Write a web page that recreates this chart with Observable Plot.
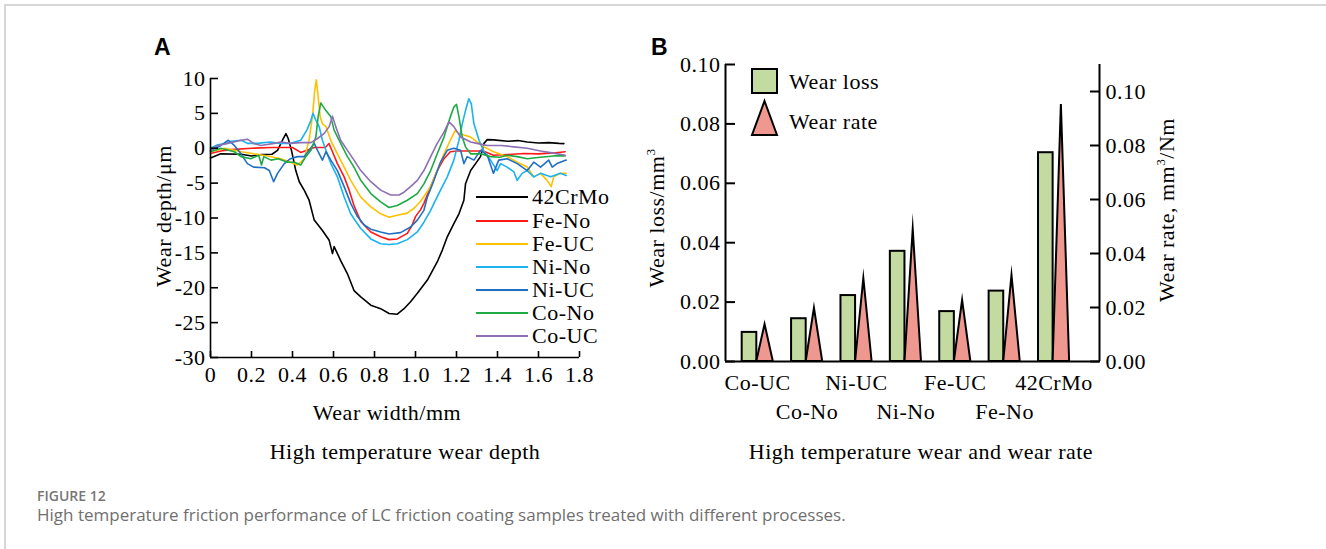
<!DOCTYPE html>
<html><head><meta charset="utf-8">
<script src="https://cdn.jsdelivr.net/npm/d3@7"></script>
<script src="https://cdn.jsdelivr.net/npm/@observablehq/plot@0.6"></script>
<style>
body{margin:0;background:#fff;}
#root{position:relative;width:1326px;height:549px;overflow:hidden;font-family:"Liberation Serif",serif;color:#000;}
.abs{position:absolute;white-space:nowrap;}
.ser{font-family:"Liberation Serif","Times New Roman",serif;font-size:22px;letter-spacing:0.5px;}
.ctr{text-align:center;}
.rot{transform:rotate(-90deg);transform-origin:center center;text-align:center;}
sup{font-size:60%;vertical-align:0;position:relative;top:-0.7em;}
</style></head><body><div id="root"></div>
<script>
// ---------- Panel A data: wear depth profiles [width mm, depth µm] ----------
const seriesNames = ["42CrMo","Fe-No","Fe-UC","Ni-No","Ni-UC","Co-No","Co-UC"];
const seriesColors = ["#000000","#ff1a1a","#ffc000","#1ab2f0","#1f70c4","#1faa45","#8e6fb3"];

const d42CrMo = [[0,-1.4],[0.05,-0.8],[0.15,-0.85],[0.2,-1.1],[0.25,-0.9],[0.30,-0.86],[0.327,-0.3],[0.351,1.15],[0.368,2.1],[0.379,1.4],[0.395,-0.3],[0.416,-3.2],[0.433,-4.8],[0.457,-6.0],[0.481,-7.45],[0.506,-10.3],[0.546,-11.8],[0.579,-13.2],[0.59,-14.5],[0.595,-15.1],[0.603,-14.1],[0.635,-16.1],[0.668,-18],[0.70,-20.4],[0.733,-21.3],[0.782,-22.5],[0.83,-23],[0.871,-23.7],[0.91,-23.8],[0.944,-23],[0.976,-22],[1.009,-20.8],[1.058,-18.9],[1.106,-16.3],[1.131,-14.6],[1.155,-12.7],[1.187,-10.8],[1.212,-9.4],[1.236,-7.45],[1.244,-5.1],[1.269,-3.2],[1.293,-2.2],[1.317,-1.2],[1.334,0.7],[1.35,1.24],[1.38,1.2],[1.45,1.0],[1.5,1.1],[1.545,0.9],[1.6,0.75],[1.65,0.8],[1.7,0.7],[1.724,0.67]];
const dFeNo = [[0,-0.76],[0.05,-0.4],[0.1,-0.2],[0.2,0],[0.3,0.1],[0.4,0.1],[0.44,-0.6],[0.47,-0.3],[0.506,0.1],[0.56,0.1],[0.578,0.67],[0.595,-0.5],[0.619,-2.2],[0.652,-4.1],[0.676,-6.0],[0.70,-8.2],[0.733,-10.5],[0.782,-12],[0.83,-12.7],[0.871,-13.1],[0.911,-13.0],[0.96,-12.2],[0.984,-11.0],[1.0,-9.8],[1.025,-8.8],[1.041,-7.9],[1.074,-5.5],[1.106,-3.2],[1.139,-1.5],[1.17,-0.5],[1.204,-0.4],[1.33,-0.4],[1.38,-1.0],[1.45,-0.9],[1.53,-0.76],[1.6,-0.8],[1.674,-0.67],[1.73,-0.5]];
const dFeUC = [[0,-0.5],[0.07,0],[0.15,-0.5],[0.21,-0.8],[0.28,-1.1],[0.343,-1.5],[0.39,-2],[0.424,-2.4],[0.457,-1.5],[0.481,1.15],[0.497,4.5],[0.509,8.4],[0.516,9.8],[0.522,8.3],[0.535,4.5],[0.546,3.5],[0.563,3.1],[0.587,1.1],[0.619,-0.8],[0.652,-2.7],[0.684,-4.6],[0.733,-7.0],[0.782,-8.4],[0.83,-9.4],[0.871,-9.9],[0.911,-9.6],[0.96,-9.3],[0.993,-8.6],[1.025,-7.6],[1.074,-5.5],[1.106,-3.2],[1.139,-0.8],[1.17,1.15],[1.195,2.6],[1.212,2.1],[1.236,1.9],[1.269,1.6],[1.3,0.9],[1.334,0.2],[1.38,-0.5],[1.447,-1.2],[1.496,-2.0],[1.545,-2.7],[1.577,-4.1],[1.61,-3.6],[1.642,-4.6],[1.662,-5.5],[1.674,-4.1],[1.707,-3.6],[1.735,-3.6]];
const dNiNo = [[0,0],[0.035,0.5],[0.08,0.7],[0.1,1.0],[0.15,1.15],[0.18,0.7],[0.23,0.7],[0.29,0.9],[0.34,0.7],[0.39,0.7],[0.44,1.15],[0.47,2.6],[0.49,4],[0.5,5],[0.514,4],[0.53,3.1],[0.546,1.15],[0.563,-0.3],[0.587,-2.2],[0.619,-4.1],[0.652,-7],[0.684,-9.4],[0.70,-10.1],[0.733,-11.5],[0.782,-13.0],[0.83,-13.7],[0.871,-13.8],[0.911,-13.7],[0.96,-13.1],[1.009,-12],[1.041,-10.6],[1.074,-8.9],[1.09,-7.9],[1.122,-6],[1.155,-4.1],[1.187,-1.7],[1.212,1.15],[1.228,3.5],[1.244,5.4],[1.26,7.1],[1.272,6.4],[1.285,3.5],[1.31,1.15],[1.334,-0.5],[1.366,-1.7],[1.398,-3.2],[1.415,-2.2],[1.447,-2.7],[1.48,-3.4],[1.496,-4.6],[1.52,-3.6],[1.545,-3.2],[1.577,-4.1],[1.61,-3.6],[1.659,-4.1],[1.707,-3.6],[1.735,-3.9]];
const dNiUC = [[0,-0.3],[0.04,0.2],[0.087,1.15],[0.116,0.4],[0.149,-0.8],[0.18,-2.2],[0.21,-2.7],[0.263,-2.8],[0.287,-3.2],[0.308,-4.8],[0.327,-3.6],[0.36,-2.2],[0.39,-1.5],[0.424,-1.2],[0.457,-1.2],[0.481,-0.3],[0.506,0.7],[0.522,-0.3],[0.546,-1.7],[0.563,-0.5],[0.587,-1.7],[0.619,-3.2],[0.652,-5.5],[0.684,-7.9],[0.717,-9.8],[0.75,-11],[0.782,-11.6],[0.83,-12.0],[0.871,-12.3],[0.927,-12.1],[0.976,-11.3],[1.009,-10.3],[1.041,-8.9],[1.058,-7.0],[1.09,-4.6],[1.122,-2.0],[1.155,-0.3],[1.187,0],[1.22,-0.3],[1.236,-2.2],[1.252,-1.2],[1.285,-1.7],[1.317,-0.3],[1.35,-1.0],[1.38,-3.6],[1.406,-1.7],[1.447,-1.5],[1.496,-2.2],[1.545,-3.2],[1.577,-2.0],[1.61,-2.7],[1.65,-1.7],[1.667,-2.7],[1.69,-2.2],[1.735,-1.7]];
const dCoNo = [[0,-0.5],[0.05,0],[0.116,-0.5],[0.149,-1.2],[0.197,-1.5],[0.235,-1.0],[0.249,-2.4],[0.26,-1.2],[0.295,-1.7],[0.33,-1.5],[0.376,-2.0],[0.41,-2.0],[0.44,-2.4],[0.465,-1.2],[0.49,-0.3],[0.514,1.6],[0.525,4.5],[0.538,6.5],[0.563,5.4],[0.587,4.5],[0.603,2.6],[0.635,0.7],[0.668,-1.2],[0.7,-2.7],[0.733,-4.6],[0.782,-6.5],[0.83,-7.7],[0.871,-8.5],[0.911,-8.2],[0.96,-7.45],[1.009,-6.5],[1.041,-5.1],[1.074,-3.2],[1.106,-0.8],[1.139,1.6],[1.17,4.5],[1.187,5.9],[1.2,6.3],[1.212,4.5],[1.228,1.6],[1.244,0.2],[1.269,-0.8],[1.317,-0.8],[1.366,-1.2],[1.41,-1.3],[1.447,-1.0],[1.496,-1.2],[1.545,-1.5],[1.61,-1.3],[1.674,-1.1],[1.73,-1.1]];
const dCoUC = [[0,-0.3],[0.035,0.4],[0.084,0.7],[0.149,1.15],[0.18,1.3],[0.21,0.7],[0.245,0.4],[0.311,0.7],[0.343,0.9],[0.39,0.7],[0.44,0.8],[0.49,0.8],[0.522,1.4],[0.554,2.1],[0.579,3.1],[0.595,4.6],[0.611,3.1],[0.635,1.15],[0.668,-0.3],[0.7,-1.7],[0.733,-3.2],[0.782,-4.8],[0.83,-6],[0.879,-6.7],[0.92,-6.7],[0.944,-6.3],[0.976,-5.5],[1.009,-4.6],[1.041,-3.2],[1.074,-1.2],[1.106,0.7],[1.139,2.3],[1.163,3.8],[1.187,3.1],[1.22,1.6],[1.269,0.9],[1.3,0.7],[1.35,0.4],[1.42,0.4],[1.48,0.2],[1.545,0],[1.61,-0.4],[1.674,-0.7],[1.73,-1.0]];
const seriesData = [d42CrMo, dFeNo, dFeUC, dNiNo, dNiUC, dCoNo, dCoUC];
const widthTicks = [0,0.2,0.4,0.6,0.8,1.0,1.2,1.4,1.6,1.8];
const depthTicks = [-30,-25,-20,-15,-10,-5,0,5,10];

// ---------- Panel B data ----------
const categories = ["Co-UC","Co-No","Ni-UC","Ni-No","Fe-UC","Fe-No","42CrMo"];
const wearLoss = [0.0098,0.0144,0.0222,0.0371,0.0168,0.0237,0.0703];
const wearRate = [0.0137,0.0197,0.0307,0.0489,0.0226,0.0319,0.0952];
const lossTicks = [0,0.02,0.04,0.06,0.08,0.10];
const rateTicks = [0,0.02,0.04,0.06,0.08,0.10];

const root = document.getElementById("root");
function addDiv(html, css, cls="abs"){const d=document.createElement("div");d.className=cls;d.innerHTML=html;Object.assign(d.style,css);root.appendChild(d);return d;}
function place(el,left,top){el.style.position="absolute";el.style.left=left+"px";el.style.top=top+"px";root.appendChild(el);}

// frame
addDiv("",{left:"4px",top:"4px",width:"1322px",height:"0",borderTop:"2px solid #d6d6d6"});
addDiv("",{left:"4px",top:"4px",width:"0",height:"545px",borderLeft:"2px solid #d6d6d6"});

const serif = "Liberation Serif, Times New Roman, serif";
const plotStyle = {fontFamily:serif, fontSize:"22px", letterSpacing:"0.5px", background:"transparent", color:"#000"};

// ---------- Panel A ----------
const rowsA = seriesNames.flatMap((name,k)=>seriesData[k].map(([x,y])=>({name,x,y})));
const plotA = Plot.plot({
  width:520, height:340, marginLeft:110, marginRight:41, marginTop:28, marginBottom:33,
  style:plotStyle,
  x:{domain:[0,1.8], axis:null},
  y:{domain:[-30,10], axis:null},
  color:{domain:seriesNames, range:seriesColors},
  marks:[
    Plot.line(rowsA,{x:"x",y:"y",z:"name",stroke:"name",strokeWidth:1.6}),
    Plot.ruleX([0],{stroke:"#000",strokeWidth:1.6}),
    Plot.ruleY([-30],{stroke:"#000",strokeWidth:1.6}),
    Plot.axisX(widthTicks,{anchor:"bottom",label:null,tickSize:-6,tickPadding:15,strokeWidth:1.6,fontSize:22,tickFormat:d=>d===0?"0":d.toFixed(1)}),
    Plot.axisY(depthTicks,{anchor:"left",label:null,tickSize:-8,tickPadding:13,strokeWidth:1.6,fontSize:22,tickFormat:d=>String(d)})
  ]
});
place(plotA,100,50);

// Panel A legend
const legY=[197,220.5,244,267,290,313,336];
seriesNames.forEach((n,k)=>{
  addDiv("",{left:"476px",top:(legY[k]-1)+"px",width:"52px",height:"0",borderTop:"2px solid "+seriesColors[k]});
  addDiv(n,{left:"532px",top:(legY[k]-14)+"px",height:"28px",lineHeight:"28px"},"abs ser");
});

// labels A
addDiv("A",{left:"154px",top:"36px",fontFamily:"Liberation Sans, Arial, sans-serif",fontWeight:"bold",fontSize:"23px",lineHeight:"23px"});
addDiv("Wear depth/μm",{left:(164-110)+"px",top:(216-15)+"px",width:"220px",height:"30px",lineHeight:"30px"},"abs ser rot");
addDiv("Wear width/mm",{left:(387-150)+"px",top:(413-15)+"px",width:"300px",height:"30px",lineHeight:"30px"},"abs ser ctr");
addDiv("High temperature wear depth",{left:(405-200)+"px",top:(452-15)+"px",width:"400px",height:"30px",lineHeight:"30px"},"abs ser ctr");

// ---------- Panel B ----------
const ratio = 0.10/0.11; // right axis spans 0..0.11 over the same height as 0..0.10
const barW = 0.296, triL = 0.296, triApex = 0.463, triR = 0.63, labelOff = 0.313;
const barsB = categories.map((c,i)=>({c,i,loss:wearLoss[i],rate:wearRate[i]}));
const triB = barsB.flatMap(d=>[{c:d.c,x:d.i+triL,y:0},{c:d.c,x:d.i+triApex,y:d.rate*ratio},{c:d.c,x:d.i+triR,y:0}]);
const plotB = Plot.plot({
  width:560, height:380, marginLeft:85, marginRight:101, marginTop:14, marginBottom:69,
  style:plotStyle,
  x:{type:"linear", domain:[-0.338,7.235], axis:null},
  y:{domain:[0,0.10], axis:null},
  marks:[
    Plot.rectY(barsB,{x1:d=>d.i,x2:d=>d.i+barW,y:"loss",fill:"#c3daa0",stroke:"#000",strokeWidth:2}),
    Plot.areaY(triB,{x:"x",y:"y",z:"c",fill:"#ef988f",stroke:"#000",strokeWidth:2,strokeLinejoin:"miter",strokeMiterlimit:30}),
    Plot.ruleX([-0.338],{stroke:"#000",strokeWidth:2}),
    Plot.ruleX([7.235],{stroke:"#000",strokeWidth:2}),
    Plot.ruleY([0],{stroke:"#000",strokeWidth:2}),
    Plot.axisY(lossTicks,{anchor:"left",label:null,tickSize:-10,tickPadding:15,strokeWidth:2,fontSize:22,tickFormat:d=>d.toFixed(2)}),
    Plot.axisY(rateTicks.map(v=>v*ratio),{anchor:"right",label:null,tickSize:-10,tickPadding:16,strokeWidth:2,fontSize:22,tickFormat:d=>(d/ratio).toFixed(2)}),
    Plot.text(barsB.filter(d=>d.i%2===0),{x:d=>d.i+labelOff,y:0,text:"c",dy:21,fontSize:22}),
    Plot.text(barsB.filter(d=>d.i%2===1),{x:d=>d.i+labelOff,y:0,text:"c",dy:50,fontSize:22})
  ]
});
place(plotB,640,50);

// legend B
const legB = document.createElementNS("http://www.w3.org/2000/svg","svg");
legB.setAttribute("width","30");legB.setAttribute("height","70");
legB.innerHTML = '<rect x="2" y="2" width="25" height="24" fill="#c3daa0" stroke="#000" stroke-width="2"/><polygon points="14.5,34 27,68 2,68" fill="#ef988f" stroke="#000" stroke-width="2"/>';
place(legB,750,67);
addDiv("Wear loss",{left:"789px",top:(82-14)+"px",height:"28px",lineHeight:"28px"},"abs ser");
addDiv("Wear rate",{left:"789px",top:(122-14)+"px",height:"28px",lineHeight:"28px"},"abs ser");

addDiv("B",{left:"651px",top:"36px",fontFamily:"Liberation Sans, Arial, sans-serif",fontWeight:"bold",fontSize:"23px",lineHeight:"23px"});
addDiv("Wear loss/mm<sup>3</sup>",{left:(657-110)+"px",top:(218-15)+"px",width:"220px",height:"30px",lineHeight:"30px"},"abs ser rot");
addDiv("Wear rate, mm<sup>3</sup>/Nm",{left:(1167-120)+"px",top:(210-15)+"px",width:"240px",height:"30px",lineHeight:"30px"},"abs ser rot");
addDiv("High temperature wear and wear rate",{left:(921-250)+"px",top:(452-15)+"px",width:"500px",height:"30px",lineHeight:"30px"},"abs ser ctr");

// caption
addDiv("FIGURE 12",{left:"37px",top:"487px",fontFamily:"Open Sans, sans-serif",fontWeight:"600",fontSize:"14px",lineHeight:"18px",color:"#777"});
addDiv("High temperature friction performance of LC friction coating samples treated with different processes.",{left:"37px",top:"504px",fontFamily:"Open Sans, sans-serif",fontSize:"17px",lineHeight:"22px",color:"#6f6f6f"});
</script></body></html>
